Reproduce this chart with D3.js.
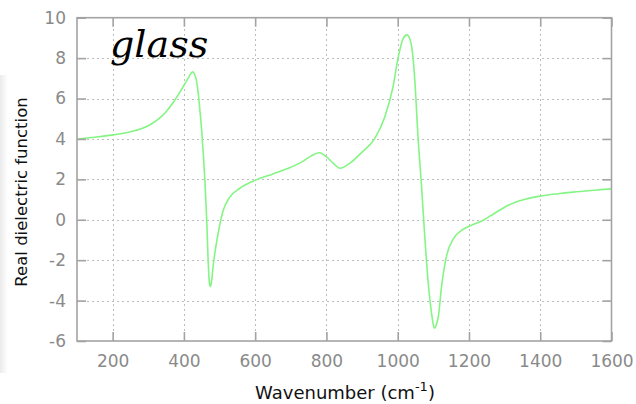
<!DOCTYPE html>
<html>
<head>
<meta charset="utf-8">
<script src="https://cdn.jsdelivr.net/npm/d3@7"></script>
<style>
  html, body { margin: 0; padding: 0; background: #fff; }
  svg { display: block; }
</style>
</head>
<body>
<svg id="chart" width="636" height="404"></svg>
<script>
// Real part of the dielectric function of glass vs. wavenumber
const wavenumber = [100, 150, 200, 250, 280, 305, 330, 350, 370, 390, 405, 415, 420, 425, 430, 435, 440, 445, 450, 455, 459, 464, 468, 471, 474, 478, 482, 489, 496, 510, 529, 557, 600, 650, 700, 730, 756, 780, 800, 819, 838, 866, 900, 935, 964, 987, 1001, 1015, 1026, 1035, 1042, 1048, 1057, 1067, 1076, 1085, 1095, 1100, 1104, 1108, 1114, 1123, 1137, 1156, 1184, 1210, 1240, 1270, 1300, 1330, 1360, 1399, 1450, 1492, 1550, 1600];
const epsilonReal = [4.0, 4.08, 4.2, 4.36, 4.5, 4.7, 5.0, 5.35, 5.8, 6.35, 6.8, 7.1, 7.25, 7.32, 7.2, 6.9, 6.3, 5.4, 4.4, 3.1, 1.9, 0.0, -2.0, -3.0, -3.31, -3.0, -2.3, -1.4, -0.67, 0.45, 1.12, 1.56, 1.95, 2.27, 2.6, 2.85, 3.15, 3.32, 3.12, 2.8, 2.55, 2.8, 3.35, 4.0, 5.1, 6.59, 8.0, 8.95, 9.15, 8.9, 8.2, 6.92, 4.11, 1.64, -0.84, -2.98, -4.63, -5.2, -5.37, -5.2, -4.8, -3.31, -1.8, -0.95, -0.47, -0.25, -0.02, 0.3, 0.62, 0.87, 1.03, 1.17, 1.29, 1.37, 1.46, 1.53];

const xTicks = [200, 400, 600, 800, 1000, 1200, 1400, 1600];
const yTicks = [-6, -4, -2, 0, 2, 4, 6, 8, 10];
const xDomain = [100, 1600];
const yDomain = [-6, 10];

const svg = d3.select("#chart");
const margin = { left: 77, right: 24.5, top: 17.7, bottom: 63 };
const W = 636, H = 404;
const x0 = margin.left, x1 = W - margin.right;
const y0 = H - margin.bottom, y1 = margin.top;

const x = d3.scaleLinear().domain(xDomain).range([x0, x1]);
const y = d3.scaleLinear().domain(yDomain).range([y0, y1]);

// faint shading along the left edge
const defs = svg.append("defs");
const grad = defs.append("linearGradient").attr("id", "edge").attr("x1", 0).attr("x2", 1);
grad.append("stop").attr("offset", 0).attr("stop-color", "#ebebeb");
grad.append("stop").attr("offset", 1).attr("stop-color", "#ffffff");
svg.append("rect").attr("x", 0).attr("y", 75).attr("width", 8).attr("height", 298).attr("fill", "url(#edge)");

// dotted grid
const grid = svg.append("g").attr("stroke", "#bdbdbd").attr("stroke-width", 1).attr("stroke-dasharray", "2,3");
grid.selectAll("line.gx").data(xTicks.filter(d => d < xDomain[1])).join("line")
  .attr("x1", d => Math.round(x(d)) + 0.5).attr("x2", d => Math.round(x(d)) + 0.5)
  .attr("y1", y0).attr("y2", y1);
grid.selectAll("line.gy").data(yTicks.filter(d => d > yDomain[0] && d < yDomain[1])).join("line")
  .attr("y1", d => Math.round(y(d)) + 0.5).attr("y2", d => Math.round(y(d)) + 0.5)
  .attr("x1", x0).attr("x2", x1);

// curve
const line = d3.line().x((d, i) => x(wavenumber[i])).y(d => y(d)).curve(d3.curveMonotoneX);
svg.append("path").attr("d", line(epsilonReal))
  .attr("fill", "none").attr("stroke", "#84f584").attr("stroke-width", 1.6);

// frame and inward ticks on all four sides
const axisColor = "#a3a3a3";
svg.append("rect").attr("x", x0).attr("y", y1).attr("width", x1 - x0).attr("height", y0 - y1)
  .attr("fill", "none").attr("stroke", axisColor).attr("stroke-width", 1.6);

const plain = d => String(d);
const tickLen = 9;
const axisB = d3.axisBottom(x).tickValues(xTicks).tickFormat(plain).tickSizeInner(-tickLen).tickSizeOuter(0).tickPadding(14);
const axisT = d3.axisTop(x).tickValues(xTicks).tickSizeInner(-tickLen).tickSizeOuter(0).tickFormat("");
const axisL = d3.axisLeft(y).tickValues(yTicks).tickFormat(plain).tickSizeInner(-tickLen).tickSizeOuter(0).tickPadding(11);
const axisR = d3.axisRight(y).tickValues(yTicks).tickSizeInner(-tickLen).tickSizeOuter(0).tickFormat("");

function style(g) {
  g.select(".domain").remove();
  g.selectAll(".tick line").attr("stroke", axisColor).attr("stroke-width", 1.6);
  g.selectAll(".tick text").attr("fill", "#8a8a8a")
    .style("font-family", "'DejaVu Sans', Verdana, sans-serif").style("font-size", "17px");
}
svg.append("g").attr("transform", `translate(0,${y0})`).call(axisB).call(style);
svg.append("g").attr("transform", `translate(0,${y1})`).call(axisT).call(style);
svg.append("g").attr("transform", `translate(${x0},0)`).call(axisL).call(style);
svg.append("g").attr("transform", `translate(${x1},0)`).call(axisR).call(style);

// axis titles
const xt = svg.append("text").attr("x", 345).attr("y", 399).attr("text-anchor", "middle")
  .style("font-family", "'DejaVu Sans', Verdana, sans-serif").style("font-size", "18px").attr("fill", "#111");
xt.append("tspan").text("Wavenumber (cm");
xt.append("tspan").attr("dy", -8).style("font-size", "13px").text("-1");
xt.append("tspan").attr("dy", 8).text(")");

svg.append("text").attr("transform", "translate(27,192) rotate(-90)").attr("text-anchor", "middle")
  .style("font-family", "'DejaVu Sans', Verdana, sans-serif").style("font-size", "16.5px").attr("fill", "#111")
  .text("Real dielectric function");

// sample label
svg.append("text").attr("x", 110).attr("y", 57)
  .style("font-family", "'DejaVu Serif', serif").style("font-style", "italic").style("font-size", "38px")
  .attr("fill", "#000").text("glass");
</script>
</body>
</html>
